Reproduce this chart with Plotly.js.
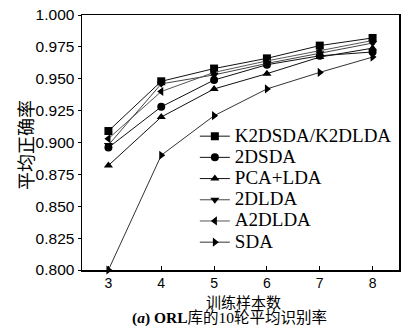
<!DOCTYPE html>
<html>
<head>
<meta charset="utf-8">
<script src="https://cdn.plot.ly/plotly-3.0.1.min.js"></script>
<style>html,body{margin:0;padding:0;background:#fff;}#chart{width:403px;height:328px;}</style>
</head>
<body>
<div id="chart"></div>
<script>
const samples = [3, 4, 5, 6, 7, 8];
const seriesNames = ["K2DSDA/K2DLDA", "2DSDA", "PCA+LDA", "2DLDA", "A2DLDA", "SDA"];
const k2dsda = [0.909, 0.948, 0.958, 0.966, 0.976, 0.982];
const sda2d = [0.896, 0.928, 0.949, 0.961, 0.968, 0.971];
const pcaLda = [0.882, 0.920, 0.942, 0.954, 0.967, 0.974];
const lda2d = [0.898, 0.946, 0.953, 0.962, 0.970, 0.978];
const a2dlda = [0.903, 0.940, 0.955, 0.964, 0.972, 0.980];
const sda = [0.800, 0.890, 0.921, 0.942, 0.955, 0.967];
const yTicks = [0.800, 0.825, 0.850, 0.875, 0.900, 0.925, 0.950, 0.975, 1.000];

const allSeries = [k2dsda, sda2d, pcaLda, lda2d, a2dlda, sda];
const symbols = ["square", "circle", "triangle-up", "triangle-down", "triangle-left", "triangle-right"];
const lineColors = ["#111", "#111", "#111", "#444", "#555", "#333"];

// legend spacing follows the (smaller) legend font size; the label itself is drawn larger
const traces = allSeries.map((ys, i) => ({
  x: samples, y: ys,
  name: "<span style=\"font-size:19px;font-family:'Liberation Serif',serif\">" + seriesNames[i] + "</span>",
  type: "scatter", mode: "lines+markers",
  cliponaxis: false,
  line: {color: lineColors[i], width: 1},
  marker: {symbol: symbols[i], size: 8, color: "#000"}
}));

const layout = {
  width: 403, height: 328,
  margin: {l: 82, r: 4, t: 15, b: 58},
  paper_bgcolor: "#fff", plot_bgcolor: "#fff",
  showlegend: true,
  legend: {x: 0.356, y: 0.586, xanchor: "left", yanchor: "top", bgcolor: "rgba(0,0,0,0)",
    font: {family: "Liberation Serif, serif", size: 14, color: "#000"}, tracegroupgap: 0},
  xaxis: {
    range: [2.5, 8.5], tickvals: samples, ticktext: samples.map(String),
    ticks: "inside", ticklen: 4, tickwidth: 1, tickcolor: "#000",
    showline: true, mirror: true, linecolor: "#000", linewidth: 1.5,
    showgrid: false, zeroline: false,
    tickfont: {family: "Liberation Sans", size: 14, color: "#000"}
  },
  yaxis: {
    range: [0.8, 1.0], tickvals: yTicks, ticktext: yTicks.map(v => v.toFixed(3)),
    ticks: "outside", ticklen: 3, tickwidth: 1, tickcolor: "#000",
    showline: true, mirror: true, linecolor: "#000", linewidth: 1.5,
    showgrid: false, zeroline: false,
    tickfont: {family: "Liberation Sans", size: 15.5, color: "#000"}
  },
  annotations: [
    {text: "平均正确率", textangle: -90, xref: "paper", yref: "paper", x: -0.18, y: 0.49,
     xanchor: "center", yanchor: "middle", showarrow: false,
     font: {family: "Noto Sans CJK SC", size: 18, color: "#000"}},
    {text: "训练样本数", xref: "paper", yref: "paper", x: 0.508, y: -0.123,
     xanchor: "center", yanchor: "middle", showarrow: false,
     font: {family: "Noto Sans CJK SC", size: 15, color: "#000"}},
    {text: "<b>(<i>a</i>) ORL</b>库的10轮平均识别率",
     xref: "paper", yref: "paper", x: 0.464, y: -0.19, xanchor: "center", yanchor: "middle",
     showarrow: false, font: {family: "Liberation Serif, Noto Sans CJK SC", size: 15.5, color: "#000"}}
  ]
};

Plotly.newPlot("chart", traces, layout, {displayModeBar: false, staticPlot: true});
</script>
</body>
</html>
